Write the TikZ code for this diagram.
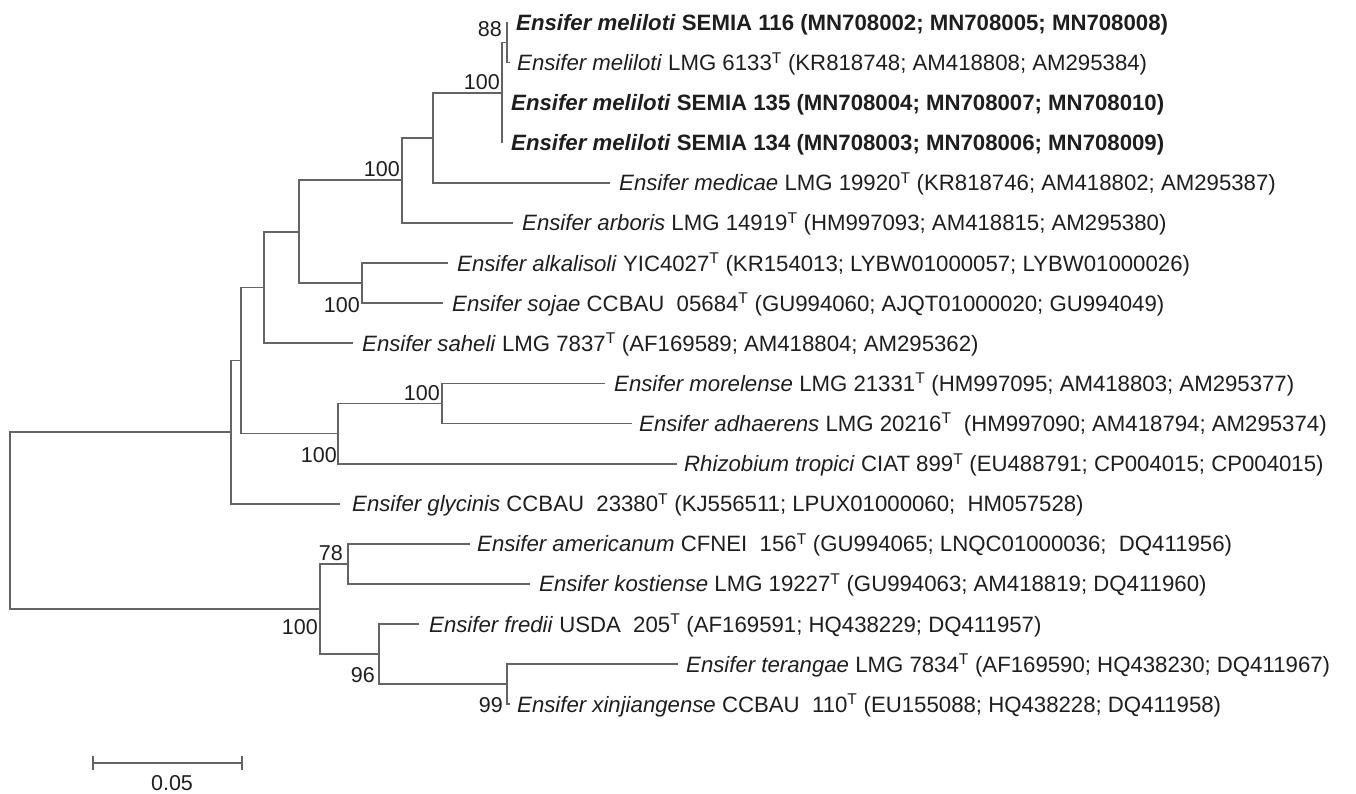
\documentclass[tikz,border=0pt]{standalone}
\usepackage{fontspec}
\setmainfont{Liberation Sans}
\definecolor{branch}{RGB}{100,100,100}
\definecolor{txt}{RGB}{30,30,30}
\newcommand{\Tsup}{\textsuperscript{T}}
\newcommand{\Ens}[1]{\textit{Ensifer #1}}
\begin{document}
\begin{tikzpicture}[x=1pt,y=-1pt,
  edge/.style={draw=branch,line width=1.8pt},
  leaf/.style={anchor=base west,inner sep=0pt,text=txt,font=\fontsize{22.2}{26}\selectfont},
  boot/.style={anchor=base east,inner sep=0pt,text=txt,font=\fontsize{21.5}{26}\selectfont}]
\useasboundingbox (0,0) rectangle (1356,794);
% leaf tips
\coordinate (l1) at (507,22.5);
\coordinate (l2) at (510,62.6);
\coordinate (l3) at (502,102.7);
\coordinate (l4) at (502,142.8);
\coordinate (l5) at (610,182.9);
\coordinate (l6) at (513,223);
\coordinate (l7) at (448,263.1);
\coordinate (l8) at (443,303.2);
\coordinate (l9) at (353,343.3);
\coordinate (l10) at (605,383.4);
\coordinate (l11) at (632,423.5);
\coordinate (l12) at (677,463.6);
\coordinate (l13) at (340,503.7);
\coordinate (l14) at (470,543.8);
\coordinate (l15) at (530,583.9);
\coordinate (l16) at (419,624);
\coordinate (l17) at (678,664.1);
\coordinate (l18) at (510,704.2);
% internal nodes
\coordinate (R) at (10,520.5);
\coordinate (A) at (231,432.1);
\coordinate (B) at (241,360.5);
\coordinate (C) at (264,287.5);
\coordinate (D) at (299,231.8);
\coordinate (E) at (402,180.4);
\coordinate (F) at (433,137.8);
\coordinate (G) at (502,92.7);
\coordinate (H) at (507,42.55);
\coordinate (I) at (362,283.15);
\coordinate (J) at (338,433.5);
\coordinate (K) at (442,403.45);
\coordinate (L) at (320,609);
\coordinate (M) at (348,563.85);
\coordinate (N) at (379,654.1);
\coordinate (O) at (507,684.15);
% branches
\draw[edge] (l1) -| (H); \draw[edge] (l2) -| (H);
\draw[edge] (H) -| (G); \draw[edge] (l3) -| (G); \draw[edge] (l4) -| (G);
\draw[edge] (G) -| (F); \draw[edge] (l5) -| (F);
\draw[edge] (F) -| (E); \draw[edge] (l6) -| (E);
\draw[edge] (l7) -| (I); \draw[edge] (l8) -| (I);
\draw[edge] (E) -| (D); \draw[edge] (I) -| (D);
\draw[edge] (D) -| (C); \draw[edge] (l9) -| (C);
\draw[edge] (l10) -| (K); \draw[edge] (l11) -| (K);
\draw[edge] (K) -| (J); \draw[edge] (l12) -| (J);
\draw[edge] (C) -| (B); \draw[edge] (J) -| (B);
\draw[edge] (B) -| (A); \draw[edge] (l13) -| (A);
\draw[edge] (l14) -| (M); \draw[edge] (l15) -| (M);
\draw[edge] (l17) -| (O); \draw[edge] (l18) -| (O);
\draw[edge] (l16) -| (N); \draw[edge] (O) -| (N);
\draw[edge] (M) -| (L); \draw[edge] (N) -| (L);
\draw[edge] (A) -| (R); \draw[edge] (L) -| (R);
% leaf labels
\node[leaf] (t1) at (516,30.5) {\textbf{\textit{Ensifer meliloti} SEMIA 116 (MN708002; MN708005; MN708008)}};
\node[leaf] (t2) at (517,70.6) {\Ens{meliloti} LMG 6133\Tsup{} (KR818748; AM418808; AM295384)};
\node[leaf] (t3) at (511,110.7) {\textbf{\textit{Ensifer meliloti} SEMIA 135 (MN708004; MN708007; MN708010)}};
\node[leaf] (t4) at (511,150.8) {\textbf{\textit{Ensifer meliloti} SEMIA 134 (MN708003; MN708006; MN708009)}};
\node[leaf] (t5) at (619,190.9) {\Ens{medicae} LMG 19920\Tsup{} (KR818746; AM418802; AM295387)};
\node[leaf] (t6) at (522,231) {\Ens{arboris} LMG 14919\Tsup{} (HM997093; AM418815; AM295380)};
\node[leaf] (t7) at (457,271.1) {\Ens{alkalisoli} YIC4027\Tsup{} (KR154013; LYBW01000057; LYBW01000026)};
\node[leaf] (t8) at (452,311.2) {\Ens{sojae} CCBAU\ \ 05684\Tsup{} (GU994060; AJQT01000020; GU994049)};
\node[leaf] (t9) at (362,351.3) {\Ens{saheli} LMG 7837\Tsup{} (AF169589; AM418804; AM295362)};
\node[leaf] (t10) at (614,391.4) {\Ens{morelense} LMG 21331\Tsup{} (HM997095; AM418803; AM295377)};
\node[leaf] (t11) at (639,431.5) {\Ens{adhaerens} LMG 20216\Tsup{}\ \ (HM997090; AM418794; AM295374)};
\node[leaf] (t12) at (684,471.6) {\textit{Rhizobium tropici} CIAT 899\Tsup{} (EU488791; CP004015; CP004015)};
\node[leaf] (t13) at (352,511.7) {\Ens{glycinis} CCBAU\ \ 23380\Tsup{} (KJ556511; LPUX01000060;\ \ HM057528)};
\node[leaf] (t14) at (477,551.8) {\Ens{americanum} CFNEI\ \ 156\Tsup{} (GU994065; LNQC01000036;\ \ DQ411956)};
\node[leaf] (t15) at (539,591.9) {\Ens{kostiense} LMG 19227\Tsup{} (GU994063; AM418819; DQ411960)};
\node[leaf] (t16) at (429,632) {\Ens{fredii} USDA\ \ 205\Tsup{} (AF169591; HQ438229; DQ411957)};
\node[leaf] (t17) at (686,672.1) {\Ens{terangae} LMG 7834\Tsup{} (AF169590; HQ438230; DQ411967)};
\node[leaf] (t18) at (517,712.2) {\Ens{xinjiangense} CCBAU\ \ 110\Tsup{} (EU155088; HQ438228; DQ411958)};
% bootstrap values
\node[boot] (b88) at (502,37) {88};
\node[boot] (b100a) at (500,90) {100};
\node[boot] (b100b) at (400,177) {100};
\node[boot] (b100c) at (360,312) {100};
\node[boot] (b100d) at (440,400) {100};
\node[boot] (b100e) at (337,462) {100};
\node[boot] (b78) at (343,560) {78};
\node[boot] (b100f) at (318,634) {100};
\node[boot] (b96) at (375,682) {96};
\node[boot] (b99) at (503,712) {99};
% scale bar
\coordinate (s1) at (93,763);
\coordinate (s2) at (242,763);
\draw[edge] (s1) -- (s2);
\draw[edge] ([yshift=7pt]s1) -- ([yshift=-7pt]s1);
\draw[edge] ([yshift=7pt]s2) -- ([yshift=-7pt]s2);
\node[boot,anchor=base] (sl) at (172,790) {0.05};
\end{tikzpicture}
\end{document}
